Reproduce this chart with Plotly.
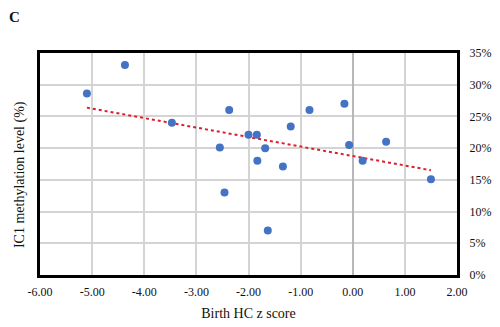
import numpy as np
import plotly.graph_objects as go

hc_z = [-5.10, -4.37, -3.47, -2.37, -2.55, -2.46, -2.00, -1.84, -1.68, -1.83,
        -1.34, -1.19, -0.83, -0.16, -0.07, 0.19, 0.64, 1.50, -1.63]
ic1 = [0.286, 0.331, 0.240, 0.260, 0.201, 0.130, 0.221, 0.221, 0.200, 0.180,
       0.171, 0.234, 0.260, 0.270, 0.205, 0.180, 0.210, 0.151, 0.070]

x_ticks = [-6, -5, -4, -3, -2, -1, 0, 1, 2]
x_tick_text = ["-6.00", "-5.00", "-4.00", "-3.00", "-2.00", "-1.00", "0.00", "1.00", "2.00"]
y_ticks = [0, 0.05, 0.10, 0.15, 0.20, 0.25, 0.30, 0.35]
y_tick_text = ["0%", "5%", "10%", "15%", "20%", "25%", "30%", "35%"]

slope, intercept = np.polyfit(hc_z, ic1, 1)
tx = [min(hc_z), max(hc_z)]
ty = [slope * v + intercept for v in tx]

FONT = "Liberation Serif, Times New Roman, serif"

fig = go.Figure()
fig.add_trace(go.Scatter(x=tx, y=ty, mode="lines",
                         line=dict(color="rgb(220,30,45)", width=2, dash="dot"),
                         hoverinfo="skip", showlegend=False))
fig.add_trace(go.Scatter(x=hc_z, y=ic1, mode="markers",
                         marker=dict(color="#4472C4", size=8),
                         showlegend=False))

fig.update_layout(
    width=492, height=319,
    margin=dict(l=32, r=43, t=45, b=52, autoexpand=False),
    paper_bgcolor="white", plot_bgcolor="white",
    font=dict(family=FONT, size=12, color="#111"),
    xaxis=dict(range=[-6, 2], tickmode="array", tickvals=x_ticks, ticktext=x_tick_text,
               showgrid=True, gridcolor="#d4d4d4", gridwidth=2,
               zeroline=True, zerolinecolor="#b8b8b8", zerolinewidth=2,
               showline=True, linecolor="black", linewidth=3, mirror="all",
               ticks="outside", ticklen=4, tickcolor="rgba(0,0,0,0)",
               automargin=False,
               title=dict(text="Birth HC z score", font=dict(size=14, family=FONT),
                          standoff=10)),
    yaxis=dict(range=[0, 0.35], tickmode="array", tickvals=y_ticks, ticktext=y_tick_text,
               side="right",
               showgrid=True, gridcolor="#d4d4d4", gridwidth=2,
               zeroline=False,
               showline=True, linecolor="black", linewidth=3, mirror="all",
               ticks="outside", ticklen=7, tickcolor="rgba(0,0,0,0)",
               automargin=False),
    annotations=[
        dict(text="IC1 methylation level (%)", xref="paper", yref="paper",
             x=0, y=0.45, xanchor="center", yanchor="middle", xshift=-20,
             textangle=-90, showarrow=False, font=dict(size=14, family=FONT)),
        dict(text="<b>C</b>", xref="paper", yref="paper", x=0, y=1,
             xanchor="left", yanchor="top", xshift=-32, yshift=45, borderpad=0,
             showarrow=False, font=dict(size=15, family=FONT)),
    ],
)

fig.write_html("out.html")
